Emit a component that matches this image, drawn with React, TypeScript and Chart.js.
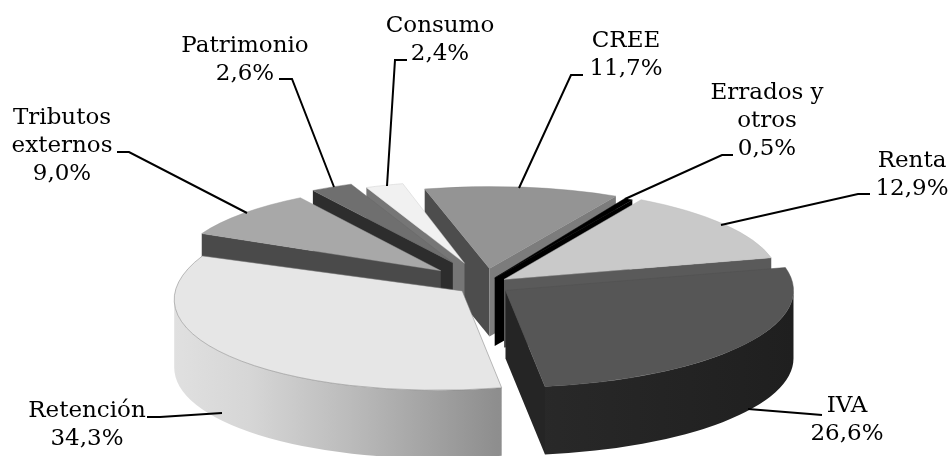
import React, { useEffect, useRef } from "react";
import { Chart, registerables } from "chart.js";

Chart.register(...registerables);

// Data (clockwise from the top of the pie)
const categories = ["CREE", "Errados y otros", "Renta", "IVA", "Retención", "Tributos externos", "Patrimonio", "Consumo"];
const shares = [11.7, 0.5, 12.9, 26.6, 34.3, 9.0, 2.6, 2.4];

// Styles per slice
const topColors = ["#949494", "#000000", "#c9c9c9", "#565656", "#e6e6e6", "#a8a8a8", "#6f6f6f", "#f1f1f1"];
const borderColors = ["#8a8a8a", "#000000", "#bdbdbd", "#505050", "#7d7d7d", "#a0a0a0", "#666666", "#c8c8c8"];
const startWall = ["#4d4d4d", "#000000", "#5a5a5a", "#222222", "#999999", "#4a4a4a", "#2d2d2d", "#767676"];
const endWall = ["#7c7c7c", "#000000", "#5a5a5a", "#252525", "#999999", "#4a4a4a", "#2d2d2d", "#767676"];
const explode = [45, 22, 25, 26, 27, 58, 68, 62];
const radiusX = [268, 276, 275, 288, 288, 265, 264, 255];
const radiusY = [82, 90, 92, 97, 99, 86, 85, 82];
const shearY = [0, 0, 0, 0, -0.03, 0, 0, 0];

const PIE_X = 484;
const PIE_Y = 285;
const TILT = 0.37;
const DEPTH = 68;
const FONT = '23px "DejaVu Serif"';

const labelLines = [
  { lines: ["CREE"], x: 626, y: 47 },
  { lines: ["Errados y", "otros"], x: 767, y: 99 },
  { lines: ["Renta"], x: 912, y: 167 },
  { lines: ["IVA"], x: 847, y: 412 },
  { lines: ["Retención"], x: 87, y: 417 },
  { lines: ["Tributos", "externos"], x: 62, y: 124 },
  { lines: ["Patrimonio"], x: 245, y: 52 },
  { lines: ["Consumo"], x: 440, y: 32 },
];
const leaders = [
  [[583, 75], [571, 75], [519, 188]],
  [[733, 155], [722, 155], [625, 199]],
  [[870, 194], [858, 194], [721, 225]],
  [[822, 415], [810, 414], [748, 409]],
  [[147, 417], [160, 417], [222, 413]],
  [[117, 152], [129, 152], [247, 213]],
  [[279, 79], [292, 79], [334, 187]],
  [[407, 60], [395, 60], [387, 186]],
];

const formatShare = (v: number) => v.toFixed(1).replace(".", ",") + "%";

const pie3d = {
  id: "pie3d",
  beforeDatasetsDraw(chart: any) {
    const ctx: CanvasRenderingContext2D = chart.ctx;
    const arcs: any[] = chart.getDatasetMeta(0).data;
    const geom = arcs.map((el, i) => {
      const mid = (el.startAngle + el.endAngle) / 2 + Math.PI / 2;
      return {
        el,
        i,
        ax: PIE_X + explode[i] * Math.sin(mid),
        ay: PIE_Y - explode[i] * Math.cos(mid) * TILT,
        sx: radiusX[i] / el.outerRadius,
        sy: radiusY[i] / el.outerRadius,
        sh: shearY[i],
        back: Math.cos(mid),
      };
    });
    // Painter's order: the slices facing away from the viewer first.
    const order = [...geom].sort((a, b) => b.back - a.back);
    const apply = (g: any, dy: number) => {
      ctx.setTransform(
        g.sx,
        g.sh * g.sx,
        0,
        g.sy,
        g.ax - g.sx * g.el.x,
        g.ay + dy - g.sh * g.sx * g.el.x - g.sy * g.el.y
      );
    };
    const radialWall = (g: any, angle: number, color: string) => {
      const { x, y, outerRadius: r } = g.el;
      const rx = x + Math.cos(angle) * r;
      const ry = y + Math.sin(angle) * r;
      ctx.beginPath();
      apply(g, 0);
      ctx.moveTo(x, y);
      ctx.lineTo(rx, ry);
      apply(g, DEPTH);
      ctx.lineTo(rx, ry);
      ctx.lineTo(x, y);
      ctx.closePath();
      ctx.setTransform(1, 0, 0, 1, 0, 0);
      ctx.fillStyle = color;
      ctx.fill();
    };
    for (const g of order) {
      const { el, i } = g;
      ctx.save();
      const thetaStart = el.startAngle + Math.PI / 2;
      const thetaEnd = el.endAngle + Math.PI / 2;
      if (Math.sin(thetaStart) < 0) radialWall(g, el.startAngle, startWall[i]);
      if (Math.sin(thetaEnd) > 0) radialWall(g, el.endAngle, endWall[i]);
      const lo = Math.max(el.startAngle, 0);
      const hi = Math.min(el.endAngle, Math.PI);
      if (lo < hi) {
        ctx.beginPath();
        apply(g, 0);
        ctx.arc(el.x, el.y, el.outerRadius, lo, hi);
        apply(g, DEPTH);
        ctx.arc(el.x, el.y, el.outerRadius, hi, lo, true);
        ctx.closePath();
        ctx.setTransform(1, 0, 0, 1, 0, 0);
        const grad = ctx.createLinearGradient(g.ax - radiusX[i], 0, g.ax + radiusX[i], 0);
        if (i === 4) {
          grad.addColorStop(0, "#e0e0e0");
          grad.addColorStop(0.13, "#d6d6d6");
          grad.addColorStop(0.3, "#bcbcbc");
          grad.addColorStop(0.56, "#8e8e8e");
          grad.addColorStop(1, "#777777");
        } else {
          grad.addColorStop(0, "#1c1c1c");
          grad.addColorStop(0.5, "#2a2a2a");
          grad.addColorStop(1, "#1f1f1f");
        }
        ctx.fillStyle = grad;
        ctx.fill();
      }
      apply(g, 0);
      el.draw(ctx);
      ctx.restore();
    }
    return false;
  },
  afterDraw(chart: any) {
    const ctx: CanvasRenderingContext2D = chart.ctx;
    const values: number[] = chart.data.datasets[0].data;
    ctx.save();
    ctx.strokeStyle = "#000000";
    ctx.lineWidth = 2;
    leaders.forEach((pts) => {
      ctx.beginPath();
      pts.forEach(([x, y], k) => (k ? ctx.lineTo(x, y) : ctx.moveTo(x, y)));
      ctx.stroke();
    });
    ctx.fillStyle = "#000000";
    ctx.font = FONT;
    ctx.textAlign = "center";
    ctx.textBaseline = "alphabetic";
    labelLines.forEach((lab, i) => {
      const lines = [...lab.lines, formatShare(values[i])];
      lines.forEach((t, k) => ctx.fillText(t, lab.x, lab.y + k * 28));
    });
    ctx.restore();
  },
};

export default function App() {
  const ref = useRef<HTMLCanvasElement>(null);
  useEffect(() => {
    document.body.style.margin = "0";
    const chart = new Chart(ref.current as HTMLCanvasElement, {
      type: "pie",
      data: {
        labels: categories,
        datasets: [
          {
            data: shares,
            backgroundColor: topColors,
            borderColor: borderColors,
            borderWidth: 0.6,
          },
        ],
      },
      options: {
        responsive: false,
        animation: false,
        rotation: -14,
        plugins: { legend: { display: false }, tooltip: { enabled: false } },
      },
      plugins: [pie3d as any],
    });
    return () => chart.destroy();
  }, []);
  return <canvas ref={ref} width={952} height={456} style={{ display: "block" }} />;
}
